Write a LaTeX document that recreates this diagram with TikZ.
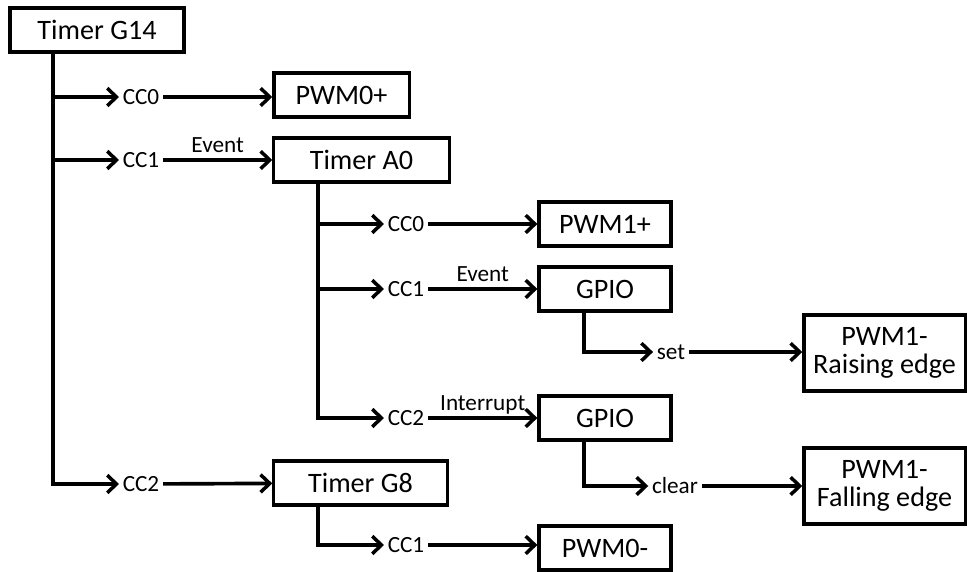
\documentclass[tikz,border=0pt]{standalone}
\usepackage{fontspec}
\setmainfont{Carlito}
\usetikzlibrary{arrows.meta}

\begin{document}
\begin{tikzpicture}[x=0.025cm, y=-0.025cm,
	>={Straight Barb[length=6.5pt, width=12.5pt, line width=2.5pt]},
	wire/.style={line width=2.6pt},
	box/.style={draw, line width=2.3pt, rectangle, inner sep=0pt, minimum height=1.1cm,
		font=\fontsize{20}{20}\selectfont, align=center},
	lab/.style={inner xsep=2.5pt, inner ysep=1pt, text height=10.6pt, text depth=0pt,
		font=\fontsize{16.5}{18}\selectfont}]
	\useasboundingbox (0,0) rectangle (967,572);

	% boxes
	\node[box, minimum width=4.35cm] (g14) at (97,30) {Timer G14};
	\node[box, minimum width=3.38cm] (pwm0p) at (341.5,95) {PWM0+};
	\node[box, minimum width=4.38cm] (ta0) at (361.5,160) {Timer A0};
	\node[box, minimum width=3.3cm] (pwm1p) at (605,224) {PWM1+};
	\node[box, minimum width=3.3cm] (gpioa) at (605,289) {GPIO};
	\node[box, minimum width=4.03cm, minimum height=1.9cm] (rise) at (884.5,353) {PWM1-\\Raising edge};
	\node[box, minimum width=3.3cm] (gpiob) at (605,418) {GPIO};
	\node[box, minimum width=4.03cm, minimum height=1.9cm] (fall) at (884.5,486) {PWM1-\\Falling edge};
	\node[box, minimum width=4.33cm] (tg8) at (360.5,483) {Timer G8};
	\node[box, minimum width=3.3cm] (pwm0m) at (605,548) {PWM0-};

	% channel labels
	\node[lab] (g0) at (141,97) {CC0};
	\node[lab] (g1) at (141,160) {CC1};
	\node[lab] (g2) at (141,484) {CC2};
	\node[lab] (a0) at (406,224) {CC0};
	\node[lab] (a1) at (406,289) {CC1};
	\node[lab] (a2) at (406,418) {CC2};
	\node[lab] (b1) at (406,545) {CC1};
	\node[lab] (set) at (671,352) {set};
	\node[lab] (clr) at (675,486) {clear};

	\coordinate (gx) at (53,0);
	\coordinate (ax) at (318,0);
	\coordinate (px) at (584,0);

	% Timer G14
	\draw[wire][->] (g14.south -| gx) |- (g2);
	\draw[wire][->] (g0 -| gx) -- (g0);
	\draw[wire][->] (g1 -| gx) -- (g1);
	\draw[wire][->] (g0) -- (pwm0p.west |- g0);
	\draw[wire][->] (g1) -- node[lab, above=3pt]{Event} (ta0);
	\draw[wire][->] (g2) -- (tg8);

	% Timer A0
	\draw[wire][->] (ta0.south -| ax) |- (a2);
	\draw[wire][->] (a0 -| ax) -- (a0);
	\draw[wire][->] (a1 -| ax) -- (a1);
	\draw[wire][->] (a0) -- (pwm1p);
	\draw[wire][->] (a1) -- node[lab, above=3pt]{Event} (gpioa);
	\draw[wire][->] (a2) -- node[lab, above=3pt]{Interrupt} (gpiob);

	% GPIO
	\draw[wire][->] (gpioa.south -| px) |- (set);
	\draw[wire][->] (set) -- (rise.west |- set);
	\draw[wire][->] (gpiob.south -| px) |- (clr);
	\draw[wire][->] (clr) -- (fall);

	% Timer G8
	\draw[wire][->] (tg8.south -| ax) |- (b1);
	\draw[wire][->] (b1) -- (pwm0m.west |- b1);
\end{tikzpicture}
\end{document}
